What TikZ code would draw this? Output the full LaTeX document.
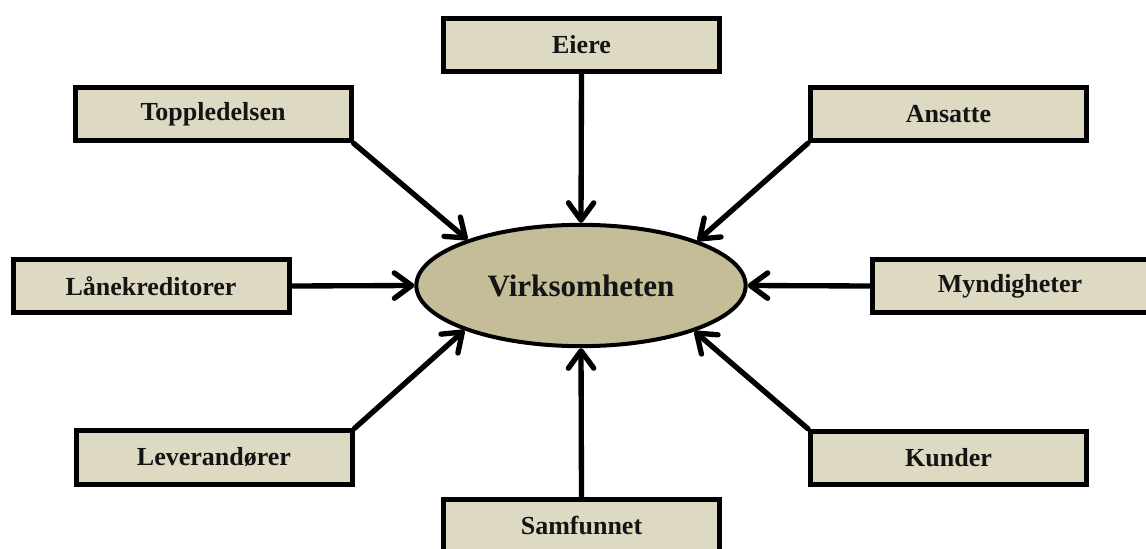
\documentclass[tikz,border=0pt]{standalone}
\usepackage{fontspec}
\setmainfont{Liberation Serif}
\usetikzlibrary{shapes.geometric,arrows.meta}

\definecolor{boxfill}{HTML}{DDD9C3}
\definecolor{corefill}{HTML}{C4BD97}
\definecolor{inkdark}{HTML}{141414}

\tikzset{
  party/.style={draw=black, line width=3.75pt, fill=boxfill, rectangle,
    minimum width=207pt, minimum height=40pt, inner sep=0pt,
    font=\fontsize{19.5}{22}\selectfont\bfseries, text=inkdark},
  core/.style={draw=black, line width=3pt, fill=corefill, ellipse,
    minimum width=247pt, minimum height=91pt, inner sep=0pt,
    font=\fontsize{23.3}{26}\selectfont\bfseries, text=inkdark},
  influence/.style={line width=4pt, line cap=round, line join=round,
    -{Straight Barb[length=13pt,width=19pt,line cap=round,line join=round]}}
}

\begin{document}
\begin{tikzpicture}[x=0.75pt, y=-0.75pt]
  \useasboundingbox (0,0) rectangle (1146,549);
  \clip (0,0) rectangle (1146,549);

  % central organisation
  \node[core] (firm) at (581,285.5) {Virksomheten};

  % stakeholder groups
  \node[party] (owners)   at (581.5,45)   {Eiere};
  \node[party] (mgmt)     at (213,114)    {Toppledelsen};
  \node[party] (staff)    at (948.5,114)  {Ansatte};
  \node[party] (lenders)  at (151,286)    {Lånekreditorer};
  \node[party] (gov)      at (1010,286)   {Myndigheter};
  \node[party] (supplier) at (214,457.5)  {Leverandører};
  \node[party] (clients)  at (948.5,458)  {Kunder};
  \node[party] (society)  at (581.5,526)  {Samfunnet};

  % influence arrows towards the organisation
  \draw[influence] (owners.south)      -- (firm.north);
  \draw[influence] (society.north)     -- (firm.south);
  \draw[influence] (lenders.east)      -- (firm.west);
  \draw[influence] (gov.west)          -- (firm.east);
  \draw[influence] (mgmt.south east)   -- (firm.158.6);
  \draw[influence] (staff.south west)  -- (firm.21.4);
  \draw[influence] (supplier.north east) -- (firm.201.4);
  \draw[influence] (clients.north west)  -- (firm.338.6);
\end{tikzpicture}
\end{document}
